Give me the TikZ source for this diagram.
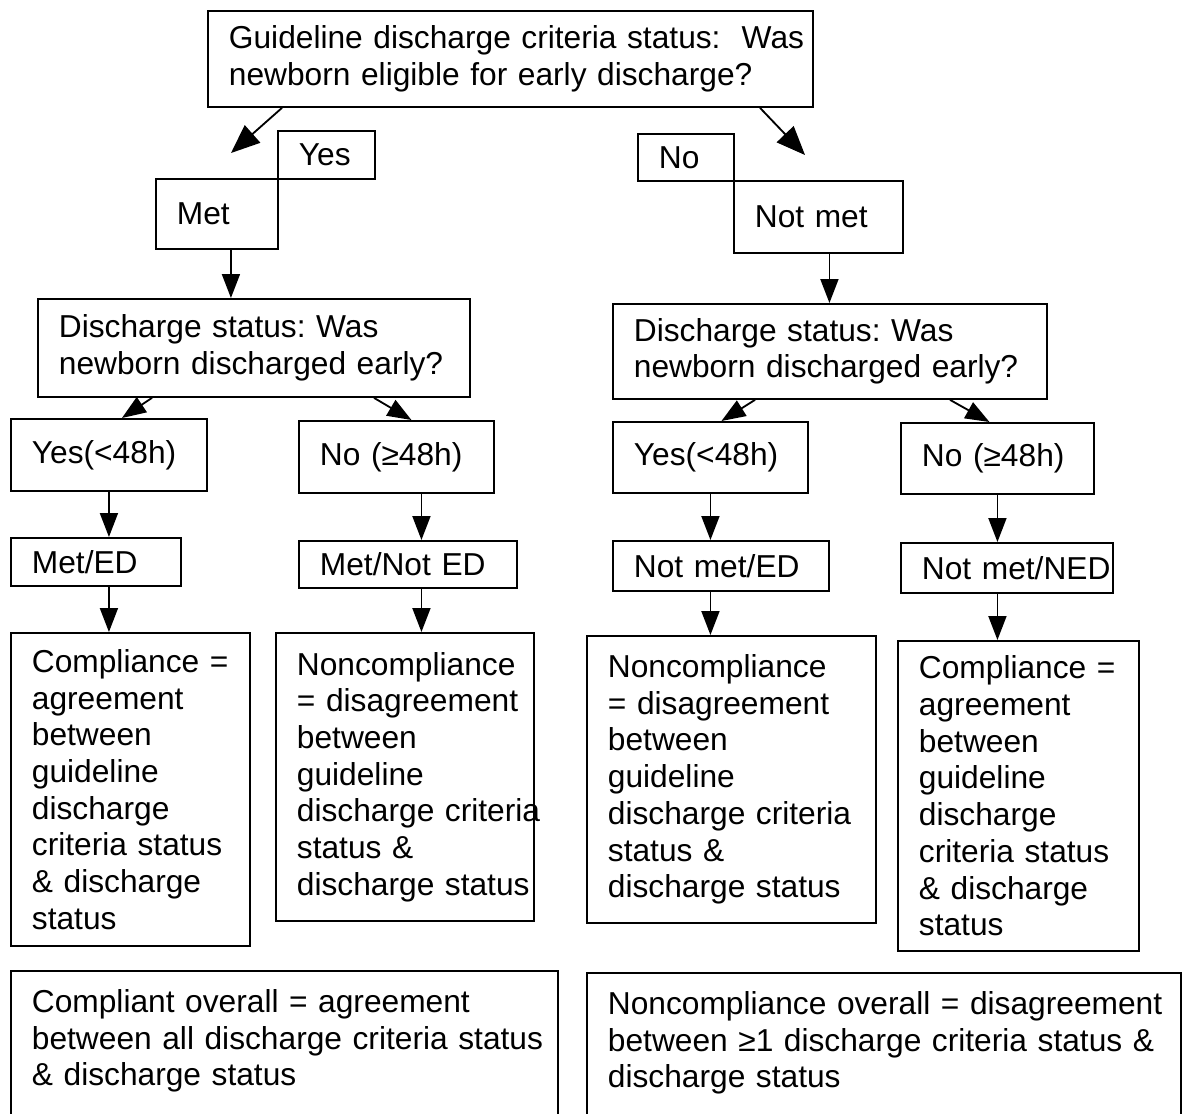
\documentclass[tikz,border=0pt]{standalone}
\usepackage{fontspec}
\setmainfont{Liberation Sans}
\usepackage{tikz}
\usetikzlibrary{arrows.meta}

\begin{document}
\begin{tikzpicture}[x=0.025cm, y=-0.025cm, line width=1.3pt,
  box/.style={draw, anchor=north west, inner xsep=0.525cm, inner ysep=0pt, align=left,
    font=\fontsize{22.55pt}{26.1pt}\selectfont\frenchspacing,
    execute at begin node={\rightskip=-3cm plus 1fil}},
  arr/.style={-{Triangle[length=0.6cm, width=0.45cm]}},
  bigarr/.style={-{Triangle[length=0.72cm, width=0.58cm]}}]
  \useasboundingbox (0,0) rectangle (1187,1113);
  \clip (0,0) rectangle (1187,1113);

  \node[box, text width=14.075cm, minimum height=2.4cm] (top) at (207,10) {Guideline discharge criteria status:~ Was\\newborn eligible for early discharge?};

  \node[box, text width=1.375cm, minimum height=1.2cm] (yes) at (277,130) {Yes};
  \node[box, text width=2cm, minimum height=1.75cm] (met) at (155,178) {Met};
  \node[box, text width=1.35cm, minimum height=1.175cm] (no) at (637,133) {No};
  \node[box, text width=3.175cm, minimum height=1.8cm] (notmet) at (733,180) {Not met};

  \node[box, text width=9.75cm, minimum height=2.45cm] (dsL) at (37,298) {Discharge status: Was\\newborn discharged early?};
  \node[box, text width=9.8cm, minimum height=2.375cm] (dsR) at (612,303) {Discharge status: Was\\newborn discharged early?};

  \node[box, text width=3.85cm, minimum height=1.8cm] (yesL) at (10,418) {Yes(<48h)};
  \node[box, text width=3.825cm, minimum height=1.8cm] (noL) at (298,420) {No (≥48h)};
  \node[box, text width=3.825cm, minimum height=1.775cm] (yesR) at (612,421) {Yes(<48h)};
  \node[box, text width=3.775cm, minimum height=1.775cm] (noR) at (900,422) {No (≥48h)};

  \node[box, text width=3.2cm, minimum height=1.2cm] (medL) at (10,537) {Met/ED};
  \node[box, text width=4.4cm, minimum height=1.175cm] (mnedL) at (298,540) {Met/Not ED};
  \node[box, text width=4.35cm, minimum height=1.25cm] (nmed) at (612,540) {Not met/ED};
  \node[box, text width=4.25cm, minimum height=1.25cm] (nmned) at (900,542) {Not met/NED};

  \node[box, text width=4.925cm, minimum height=7.825cm] (compL) at (10,632) {Compliance =\\agreement\\between\\guideline\\discharge\\criteria status\\\& discharge\\status};
  \node[box, text width=5.4cm, minimum height=7.2cm] (noncL) at (275,632) {Noncompliance\\= disagreement\\between\\guideline\\discharge criteria\\status \&\\discharge status};
  \node[box, text width=6.175cm, minimum height=7.175cm] (noncR) at (586,635) {Noncompliance\\= disagreement\\between\\guideline\\discharge criteria\\status \&\\discharge status};
  \node[box, text width=4.975cm, minimum height=7.75cm] (compR) at (897,640) {Compliance =\\agreement\\between\\guideline\\discharge\\criteria status\\\& discharge\\status};

  \node[box, text width=12.625cm, text height=1.04cm, text depth=3.25cm] (allL) at (10,970) {Compliant overall = agreement\\between all discharge criteria status\\\& discharge status};
  \node[box, text width=13.8cm, text height=1.04cm, text depth=3.25cm] (allR) at (586,972) {Noncompliance overall = disagreement\\between ≥1 discharge criteria status \&\\discharge status};

  \coordinate (tipL) at (231,153);
  \coordinate (tipR) at (805,155);
  \draw[bigarr] (top.south west) ++(75,0) -- (tipL);
  \draw[bigarr] (top.south west) ++(553,0) -- (tipR);

  \draw[arr] (met.south) ++(14,0) coordinate (m1) -- (m1 |- dsL.north);
  \draw[arr] (notmet.south) ++(11,0) coordinate (m2) -- (m2 |- dsR.north);

  \draw[arr] (dsL.south west) ++(115,0) -- ([xshift=0.325cm]yesL.north);
  \draw[arr] (dsL.south west) ++(337,0) -- ([xshift=0.375cm]noL.north);
  \draw[arr] (dsR.south west) ++(143,0) -- ([xshift=0.275cm]yesR.north);
  \draw[arr] (dsR.south west) ++(338,0) -- ([xshift=-0.2cm]noR.north);

  \draw[arr] (yesL.south) -- (yesL.south |- medL.north);
  \draw[arr] (yesL.south |- medL.south) -- (yesL.south |- compL.north);
  \draw[arr] (noL.south) ++(25,0) coordinate (n1) -- (n1 |- mnedL.north);
  \draw[arr] (n1 |- mnedL.south) -- (n1 |- noncL.north);
  \draw[arr] (yesR.south) -- (yesR.south |- nmed.north);
  \draw[arr] (yesR.south |- nmed.south) -- (yesR.south |- noncR.north);
  \draw[arr] (noR.south) -- (noR.south |- nmned.north);
  \draw[arr] (noR.south |- nmned.south) -- (noR.south |- compR.north);
\end{tikzpicture}
\end{document}
